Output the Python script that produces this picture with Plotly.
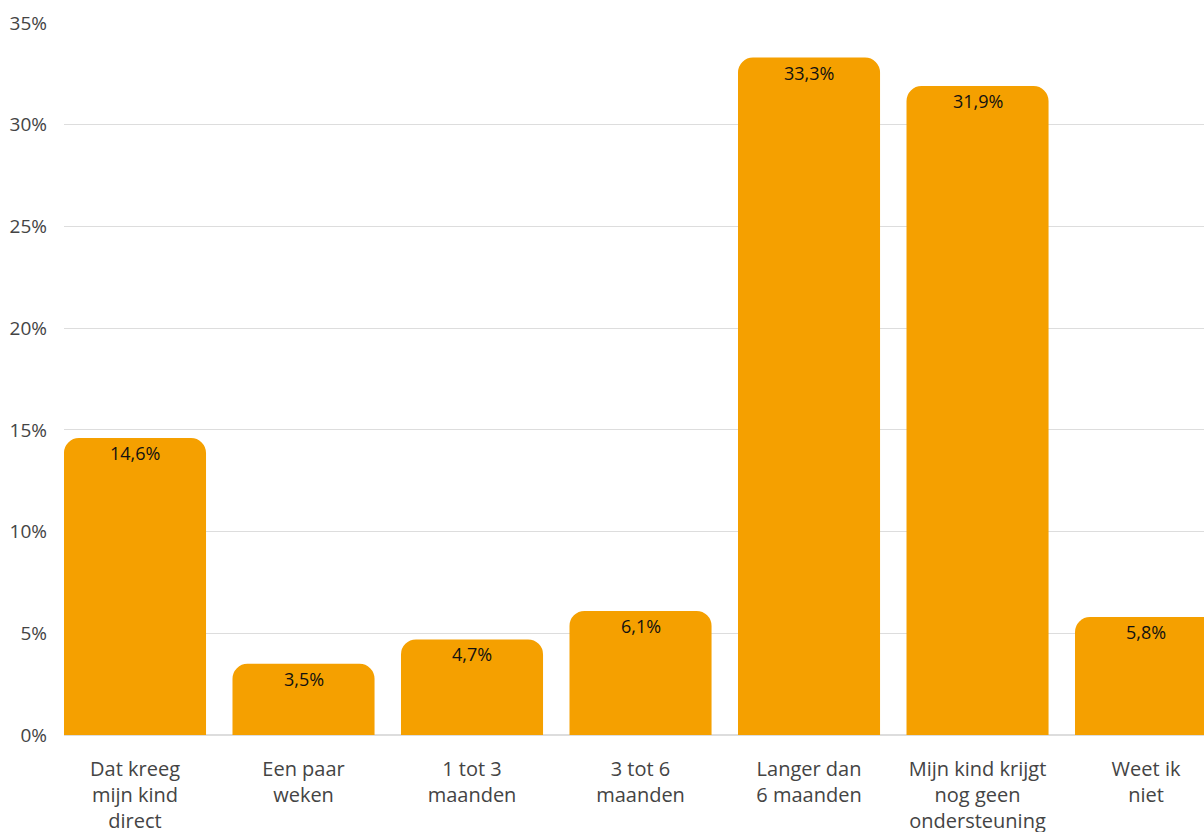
import plotly.graph_objects as go

categories = [
    "Dat kreeg<br>mijn kind<br>direct",
    "Een paar<br>weken",
    "1 tot 3<br>maanden",
    "3 tot 6<br>maanden",
    "Langer dan<br>6 maanden",
    "Mijn kind krijgt<br>nog geen<br>ondersteuning",
    "Weet ik<br>niet",
]
values = [14.6, 3.5, 4.7, 6.1, 33.3, 31.9, 5.8]
y_ticks = [0, 5, 10, 15, 20, 25, 30, 35]
y_tick_labels = ["0%", "5%", "10%", "15%", "20%", "25%", "30%", "35%"]

xs = list(range(len(categories)))

FONT = "Open Sans"

fig = go.Figure()
fig.add_trace(
    go.Bar(
        x=xs,
        y=values,
        width=0.843,
        marker=dict(color="#F5A000", cornerradius=15, line=dict(width=0)),
        hoverinfo="skip",
    )
)

for xi, v in zip(xs, values):
    fig.add_annotation(
        x=xi,
        y=v,
        text=f"{v:.1f}%".replace(".", ","),
        showarrow=False,
        yanchor="middle",
        yshift=-15,
        font=dict(family=FONT, size=18, color="#111111"),
    )

fig.update_layout(
    width=1204,
    height=832,
    margin=dict(l=64, r=0, t=23, b=97, pad=0),
    plot_bgcolor="white",
    paper_bgcolor="white",
    showlegend=False,
    font=dict(family=FONT, color="#444444"),
)
fig.update_xaxes(
    range=[-0.4214, 6.344],
    tickmode="array",
    tickvals=xs,
    ticktext=categories,
    tickfont=dict(family=FONT, size=20, color="#444444"),
    showgrid=False,
    zeroline=False,
    showline=False,
    ticks="",
    ticklabelstandoff=20,
    automargin=False,
)
fig.update_yaxes(
    range=[0, 35],
    tickmode="array",
    tickvals=y_ticks,
    ticktext=y_tick_labels,
    tickfont=dict(family=FONT, size=19, color="#444444"),
    showgrid=True,
    gridcolor="#DDDDDD",
    gridwidth=1,
    zeroline=True,
    zerolinecolor="#DDDDDD",
    showline=False,
    ticks="",
    ticklabelstandoff=16,
    automargin=False,
)

fig.write_html(
    "out.html",
    config={"displayModeBar": False},
    post_script="document.body.style.margin='0';document.body.style.overflow='hidden';",
)
